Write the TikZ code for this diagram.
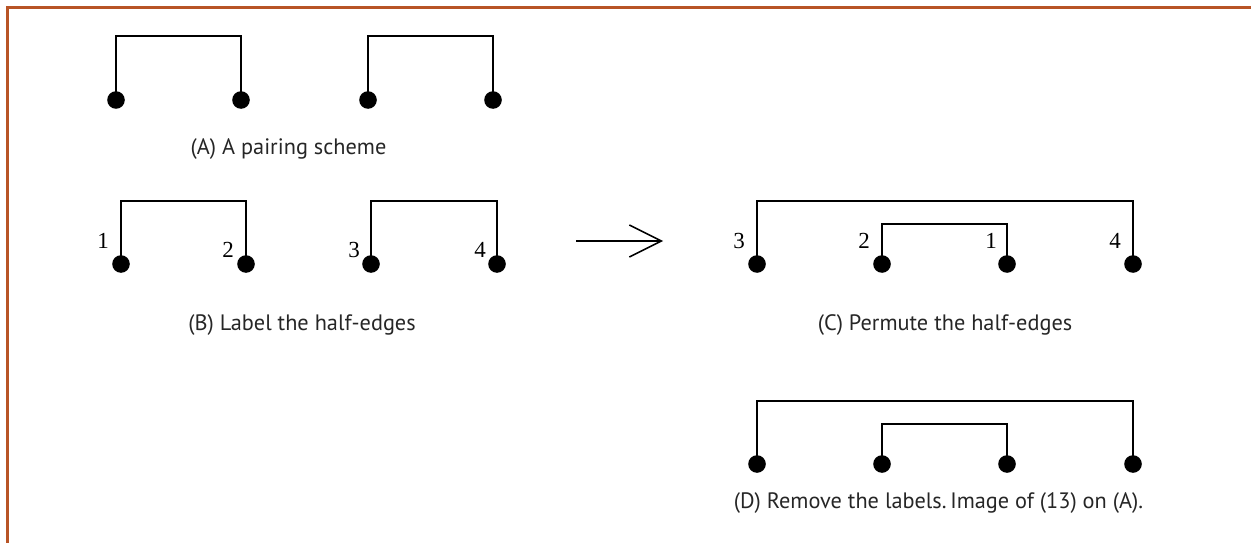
\documentclass[tikz,border=0pt]{standalone}
\usepackage{fontspec}
\setmainfont{Liberation Serif}
\newfontfamily\capfont{PT Sans}
\usetikzlibrary{arrows.meta}
\definecolor{frameorange}{RGB}{184,84,38}
\tikzset{
  dot/.style={circle,fill=black,inner sep=0pt,minimum size=17.6pt},
  bracket/.style={draw=black,line width=1.5pt},
  frameline/.style={draw=frameorange,line width=2.6pt},
  caption/.style={inner sep=0pt,font=\capfont\fontsize{22.3}{26}\selectfont,text=black!85},
  numlabel/.style={inner sep=0pt,font=\fontsize{23}{27}\selectfont},
}
\begin{document}
\begin{tikzpicture}[x=1pt,y=-1pt]
\useasboundingbox (0,0) rectangle (1251,543);
% frame
\coordinate (fb) at (7.5,543);
\coordinate (fc) at (7.5,7.5);
\coordinate (fr) at (1251,7.5);
\draw[frameline] (fb) -- (fc) -- (fr);

% (A)
\node[dot] (a1) at (116,100) {};
\node[dot] (a2) at (241,100) {};
\node[dot] (a3) at (368,100) {};
\node[dot] (a4) at (493,100) {};
\draw[bracket] (a1.center) -- (a1.center |- 0,36) -| (a2.center);
\draw[bracket] (a3.center) -- (a3.center |- 0,36) -| (a4.center);
\node[caption] (capA) at (288.5,149) {(A) A pairing scheme};

% (B)
\node[dot] (b1) at (121,264) {};
\node[dot] (b2) at (246,264) {};
\node[dot] (b3) at (371,264) {};
\node[dot] (b4) at (497,264) {};
\draw[bracket] (b1.center) -- (b1.center |- 0,201) -| (b2.center);
\draw[bracket] (b3.center) -- (b3.center |- 0,201) -| (b4.center);
\node[numlabel] (lb1) at (103,241) {1};
\node[numlabel] (lb2) at (228,250) {2};
\node[numlabel] (lb3) at (354,250) {3};
\node[numlabel] (lb4) at (480,250) {4};
\node[caption] (capB) at (302,325) {(B) Label the half-edges};

% arrow
\coordinate (ar1) at (576,241);
\coordinate (ar2) at (663,241);
\draw[line width=1.5pt,-{Straight Barb[length=32pt,width=32pt,line width=1.5pt]}] (ar1) -- (ar2);

% (C)
\node[dot] (c1) at (757,264) {};
\node[dot] (c2) at (882,264) {};
\node[dot] (c3) at (1007,264) {};
\node[dot] (c4) at (1133,264) {};
\draw[bracket] (c1.center) -- (c1.center |- 0,201) -| (c4.center);
\draw[bracket] (c2.center) -- (c2.center |- 0,224) -| (c3.center);
\node[numlabel] (lc3) at (739,241) {3};
\node[numlabel] (lc2) at (864,241) {2};
\node[numlabel] (lc1) at (991,241) {1};
\node[numlabel] (lc4) at (1115,241) {4};
\node[caption] (capC) at (945,325) {(C) Permute the half-edges};

% (D)
\node[dot] (d1) at (757,464) {};
\node[dot] (d2) at (882,464) {};
\node[dot] (d3) at (1007,464) {};
\node[dot] (d4) at (1133,464) {};
\draw[bracket] (d1.center) -- (d1.center |- 0,401) -| (d4.center);
\draw[bracket] (d2.center) -- (d2.center |- 0,424) -| (d3.center);
\node[caption] (capD) at (938.5,503) {(D) Remove the labels.\,Image of (13) on (A).};
\end{tikzpicture}
\end{document}
